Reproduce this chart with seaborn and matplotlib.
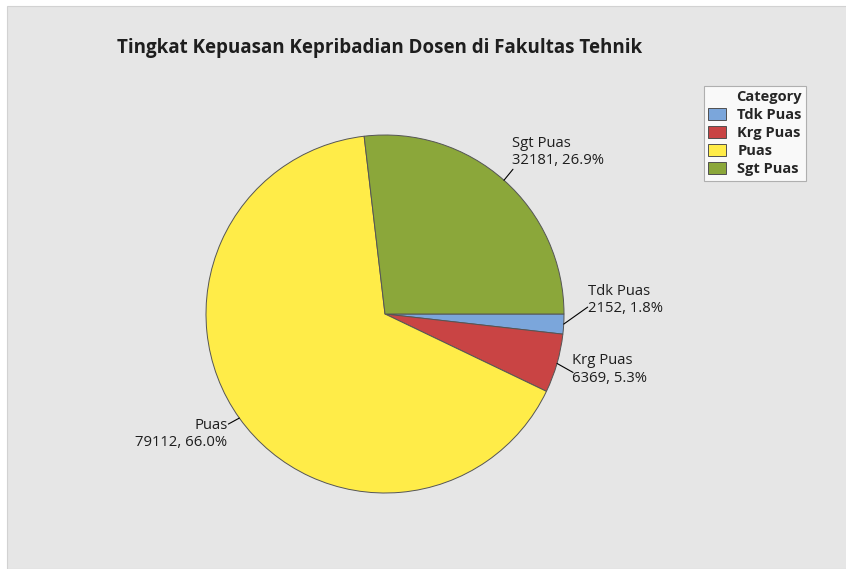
import numpy as np
import seaborn as sns
import matplotlib.pyplot as plt
from matplotlib.patches import Rectangle, Patch

# data
categories = ['Tdk Puas', 'Krg Puas', 'Puas', 'Sgt Puas']
counts = [2152, 6369, 79112, 32181]
percents = ['1.8%', '5.3%', '66.0%', '26.9%']
colors = ['#7BA6DB', '#C94444', '#FFEC48', '#8BA73A']
title = 'Tingkat Kepuasan Kepribadian Dosen di Fakultas Tehnik'

sns.set_style('white')
plt.rcParams['font.family'] = ['Open Sans', 'DejaVu Sans']

W, H = 846, 569
fig = plt.figure(figsize=(W / 100, H / 100), dpi=100)
fig.patch.set_facecolor('white')
bg = Rectangle((7 / W, 0), 1, 1 - 6 / H, transform=fig.transFigure,
               facecolor='#E6E6E6', edgecolor='#D2D2D2', lw=0.8, zorder=-5)
fig.patches.append(bg)

# pie centre (385, 314) px, radius 179 px
cx, cy, r = 385, 314, 179
ax = fig.add_axes([(cx - r) / W, 1 - (cy + r) / H, 2 * r / W, 2 * r / H])
ax.set_facecolor('none')
ax.set_zorder(2)
wedges, _ = ax.pie(counts, colors=sns.color_palette(colors), startangle=0, counterclock=False,
                   wedgeprops=dict(edgecolor='#555555', linewidth=0.7))
ax.set_xlim(-1, 1)
ax.set_ylim(-1, 1)
ax.set_aspect('equal')
ax.axis('off')

# leader lines: offset of line end from wedge edge (px, y down), then text anchor
leader = {
    'Tdk Puas': ((24, -17), (0, -23), 'left'),
    'Krg Puas': ((16, 9), (-1, -19), 'left'),
    'Puas': ((-11, 6), (-1, -6), 'right'),
    'Sgt Puas': ((9, -11), (-1, -33), 'left'),
}
total = sum(counts)
start = 0.0
for cat, n, p in zip(categories, counts, percents):
    span = 360.0 * n / total
    mid = -(start + span / 2)
    start += span
    ex = np.cos(np.radians(mid))
    ey = np.sin(np.radians(mid))
    (dx, dy), (tx, ty), ha = leader[cat]
    lx, ly = ex + dx / r, ey - dy / r
    ax.plot([ex, lx], [ey, ly], color='black', lw=0.8, clip_on=False)
    px = cx + lx * r + tx
    py = cy - ly * r + ty
    fig.text(px / W, 1 - py / H, f'{cat}\n{n}, {p}',
             ha=ha, va='top', fontsize=10.7, color='#1E1E1E', linespacing=1.2,
             multialignment=ha, zorder=3)

fig.text(117 / W, 1 - 48 / H, title, ha='left', va='center', fontsize=13.5,
         fontweight='bold', color='#1E1E1E')

handles = [Patch(facecolor=c, edgecolor='#505050', lw=0.7) for c in colors]
leg = fig.legend(handles, categories, title='Category', loc='upper right',
                 bbox_to_anchor=(806 / W, 1 - 86 / H), frameon=True, fancybox=False,
                 prop={'weight': 'bold', 'size': 10.5}, alignment='right',
                 handlelength=1.25, handleheight=0.85, handletextpad=0.75,
                 labelspacing=0.27, borderpad=0.3, borderaxespad=0)
leg.get_title().set_fontweight('bold')
leg.get_title().set_fontsize(10.5)
leg.get_frame().set_edgecolor('#A0A0A0')
leg.get_frame().set_linewidth(0.8)

fig.savefig('out.png', dpi=100)
